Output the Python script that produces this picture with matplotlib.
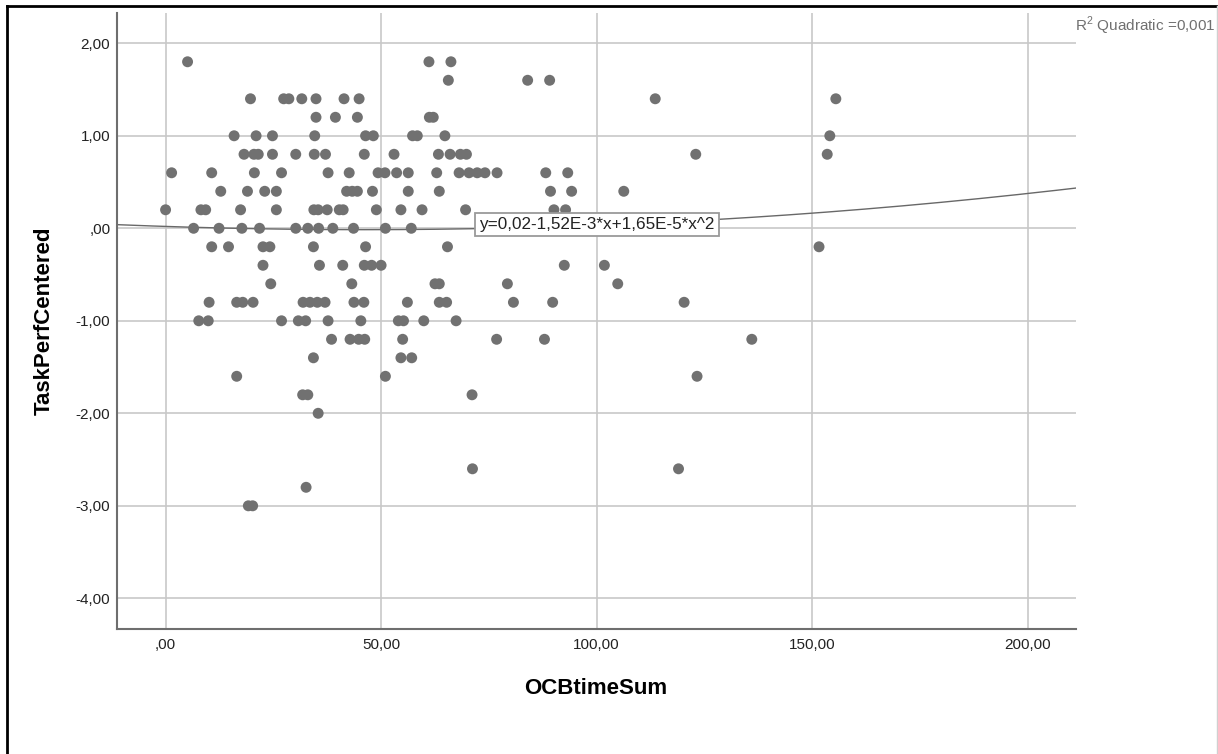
import numpy as np
import matplotlib
matplotlib.use("Agg")
import matplotlib.pyplot as plt
from matplotlib.lines import Line2D
from matplotlib.ticker import FuncFormatter

plt.rcParams['font.family'] = ['Liberation Sans', 'DejaVu Sans']
plt.rcParams['mathtext.fontset'] = 'custom'
plt.rcParams['mathtext.rm'] = 'Liberation Sans'

# OCBtimeSum (x) and TaskPerfCentered (y)
ocb_time_sum = [
    5.1, 61.1, 66.2,                                                        # 1.8
    65.6, 84.0, 89.1,                                                       # 1.6
    19.7, 27.4, 28.6, 31.6, 34.9, 41.4, 44.9, 113.6, 155.5,                 # 1.4
    34.9, 39.4, 44.5, 61.2, 62.1,                                           # 1.2
    15.9, 21.0, 24.8, 34.6, 46.4, 48.2, 57.3, 58.4, 64.8, 154.1,            # 1.0
    18.2, 20.5, 21.5, 24.8, 30.2, 34.5, 37.1, 46.1, 53.0, 63.3, 66.0,
    68.4, 69.8, 123.0, 153.5,                                               # 0.8
    1.4, 10.7, 20.6, 26.9, 37.7, 42.6, 49.3, 50.9, 53.6, 56.3, 62.9,
    68.1, 70.4, 72.3, 74.1, 76.9, 88.2, 93.3,                               # 0.6
    12.8, 19.0, 23.0, 25.7, 42.0, 43.3, 44.5, 48.0, 56.3, 63.5, 89.3,
    94.2, 106.3,                                                            # 0.4
    0.0, 8.2, 9.3, 17.4, 25.7, 34.4, 35.4, 37.5, 40.3, 41.2, 48.9, 54.6,
    59.5, 69.6, 90.1, 92.8,                                                 # 0.2
    6.5, 12.4, 17.7, 21.8, 30.2, 33.0, 35.5, 38.8, 43.6, 51.0, 57.0,        # 0.0
    10.7, 14.6, 22.6, 24.2, 34.3, 46.4, 65.4, 151.6,                        # -0.2
    22.6, 35.7, 41.1, 46.1, 47.8, 50.0, 92.5, 101.8,                        # -0.4
    24.4, 43.2, 62.5, 63.5, 79.3, 104.9,                                    # -0.6
    10.1, 16.5, 17.9, 20.3, 31.9, 33.5, 35.2, 37.0, 43.7, 46.0, 56.1,
    63.5, 65.2, 80.7, 89.8, 120.3,                                          # -0.8
    7.7, 9.9, 26.9, 30.8, 32.5, 37.7, 45.3, 54.0, 55.2, 59.9, 67.4,         # -1.0
    38.5, 42.8, 44.8, 46.2, 55.0, 76.8, 87.9, 136.0,                        # -1.2
    34.3, 54.6, 57.1,                                                       # -1.4
    16.5, 51.0, 123.3,                                                      # -1.6
    31.8, 33.0, 71.1,                                                       # -1.8
    35.4,                                                                   # -2.0
    71.2, 119.0,                                                            # -2.6
    32.6,                                                                   # -2.8
    19.2, 20.2,                                                             # -3.0
]
row_levels = [1.8, 1.6, 1.4, 1.2, 1.0, 0.8, 0.6, 0.4, 0.2, 0.0, -0.2, -0.4,
              -0.6, -0.8, -1.0, -1.2, -1.4, -1.6, -1.8, -2.0, -2.6, -2.8, -3.0]
row_counts = [3, 3, 9, 5, 10, 15, 18, 13, 16, 11, 8, 8,
              6, 16, 11, 8, 3, 3, 3, 1, 2, 1, 2]
task_perf_centered = np.repeat(row_levels, row_counts)

# quadratic fit shown in the chart
b0, b1, b2 = 0.02, -1.52e-3, 1.65e-5
fit_label = "y=0,02-1,52E-3*x+1,65E-5*x^2"
r2_label = r"R$^\mathrm{2}$ Quadratic =0,001"

x_ticks = [0, 50, 100, 150, 200]
y_ticks = [-4, -3, -2, -1, 0, 1, 2]


def spss_fmt(v, pos=None):
    s = "%.2f" % v
    s = s.replace('.', ',')
    if s.startswith("0,"):
        s = s[1:]
    if s == "-0,00":
        s = ",00"
    return s


fig = plt.figure(figsize=(12.18, 7.54), dpi=100)
ax = fig.add_axes([117.3 / 1218, 1 - 629.3 / 754, (1075.5 - 117.3) / 1218, (629.3 - 13.3) / 754])

ax.set_xlim(-11.2, 211.1)
ax.set_ylim(-4.335, 2.324)
ax.set_xticks(x_ticks)
ax.set_yticks(y_ticks)
ax.xaxis.set_major_formatter(FuncFormatter(spss_fmt))
ax.yaxis.set_major_formatter(FuncFormatter(spss_fmt))
ax.tick_params(axis='both', length=0, labelsize=11, labelcolor='#222222')
ax.tick_params(axis='x', pad=6.5)
ax.tick_params(axis='y', pad=5)

ax.grid(True, color='#c8c8c8', linewidth=1.2)
ax.set_axisbelow(True)
for side in ['top', 'right']:
    ax.spines[side].set_visible(False)
for side in ['left', 'bottom']:
    ax.spines[side].set_color('#6e6e6e')
    ax.spines[side].set_linewidth(1.5)

ax.scatter(ocb_time_sum, task_perf_centered, s=62, color='#717171',
           edgecolors='none', zorder=3)

xs = np.linspace(-11.2, 211.1, 300)
ax.plot(xs, b0 + b1 * xs + b2 * xs ** 2, color='#686868', linewidth=1.0, zorder=2.5)

ax.text(100, 0.04, fit_label, ha='center', va='center', fontsize=12.3,
        color='#222222', zorder=5,
        bbox=dict(boxstyle='square,pad=0.25', facecolor='white',
                  edgecolor='#9a9a9a', linewidth=1.3))

fig.text(1215 / 1218, 1 - 26 / 754, r2_label, ha='right', va='center',
         fontsize=11, color='#707070')

fig.text(44 / 1218, 1 - 321 / 754, "TaskPerfCentered", rotation=90,
         ha='center', va='center', fontsize=16, fontweight='bold')
fig.text(596 / 1218, 1 - 689 / 754, "OCBtimeSum", ha='center', va='center',
         fontsize=16, fontweight='bold')

# outer frame of the SPSS output
fig.add_artist(Line2D([7 / 1218, 7 / 1218], [0, 1 - 6 / 754], color='black', linewidth=2))
fig.add_artist(Line2D([7 / 1218, 1217 / 1218], [1 - 6 / 754, 1 - 6 / 754], color='black', linewidth=2))
fig.add_artist(Line2D([1216.5 / 1218, 1216.5 / 1218], [0, 1 - 6 / 754], color='#d0d0d0', linewidth=1))

fig.savefig("out.png", dpi=100)
